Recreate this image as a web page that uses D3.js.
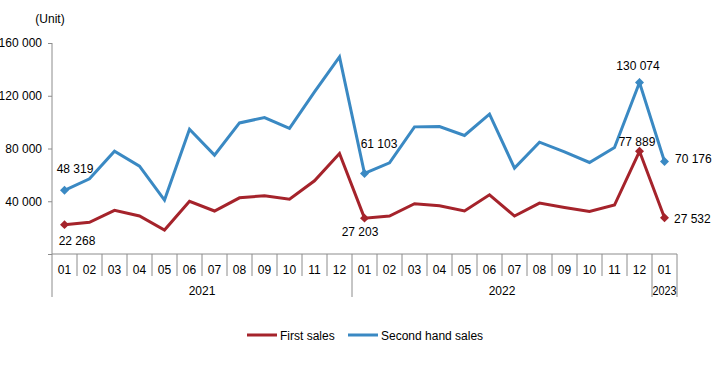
<!DOCTYPE html>
<html>
<head>
<meta charset="utf-8">
<script src="https://cdn.jsdelivr.net/npm/d3@7"></script>
<style>
  html, body { margin: 0; padding: 0; background: #fff; }
  svg text { font-family: "Liberation Sans", Arial, sans-serif; fill: #000; }
</style>
</head>
<body>
<svg id="chart" width="712" height="370"></svg>
<script>
// ---- data ----
const months = ["01","02","03","04","05","06","07","08","09","10","11","12",
                "01","02","03","04","05","06","07","08","09","10","11","12","01"];
const years = [
  { label: "2021", start: 0, count: 12 },
  { label: "2022", start: 12, count: 12 },
  { label: "2023", start: 24, count: 1 }
];
const firstSales = [22268, 24000, 33100, 28800, 18200, 39900, 32600, 42600, 44200, 41600, 55500, 76200,
                    27203, 28800, 38100, 36600, 32600, 44900, 28800, 38600, 35300, 32300, 37100, 77889,
                    27532];
const secondHand = [48319, 57000, 78000, 66600, 40900, 94650, 75000, 99400, 103500, 95200, 122900, 149400,
                    61103, 69100, 96400, 96700, 89900, 106000, 65100, 84800, 77500, 69400, 80800, 130074,
                    70176];
const yTicks = [0, 40000, 80000, 120000, 160000];
const labeledIdx = [0, 12, 23, 24];
const seriesNames = ["First sales", "Second hand sales"];

// ---- layout ----
const svg = d3.select("#chart");
const pL = 52, pR = 677, pT = 43, pB = 254;
const red = "#a5232b", blue = "#3a89c3", axisCol = "#8c8c8c";

const x = d3.scaleBand().domain(d3.range(months.length)).range([pL, pR]);
const y = d3.scaleLinear().domain([0, 160000]).range([pB, pT]);
const cx = i => x(i) + x.bandwidth() / 2;
const fmt = v => d3.format(",")(v).replace(/,/g, " ");

// y axis
const yAxis = d3.axisLeft(y).tickValues(yTicks).tickSize(4).tickPadding(6)
  .tickFormat(d => d === 0 ? "" : fmt(d));
const gy = svg.append("g").attr("transform", `translate(${pL},0)`).call(yAxis);
gy.select(".domain").remove();
gy.selectAll("line").attr("stroke", axisCol);
gy.selectAll("text").style("font-size", "12px").attr("fill", "#000");
svg.append("line").attr("x1", pL).attr("x2", pL).attr("y1", pT).attr("y2", 297)
  .attr("stroke", axisCol);

// x axis line
svg.append("line").attr("x1", pL).attr("x2", pR).attr("y1", pB).attr("y2", pB)
  .attr("stroke", axisCol);

// month separators
const yearStarts = new Set(years.map(d => d.start));
const seps = d3.range(1, months.length + 1);
svg.append("g").selectAll("line").data(seps).join("line")
  .attr("x1", i => i < months.length ? x(i) : pR)
  .attr("x2", i => i < months.length ? x(i) : pR)
  .attr("y1", pB)
  .attr("y2", i => (yearStarts.has(i) || i === months.length) ? 297 : 276)
  .attr("stroke", axisCol);

// month labels
svg.append("g").selectAll("text").data(months).join("text")
  .attr("x", (d, i) => cx(i)).attr("y", 273.5)
  .attr("text-anchor", "middle").style("font-size", "12px").text(d => d);

// year labels
svg.append("g").selectAll("text").data(years).join("text")
  .attr("x", d => x(d.start) + d.count * x.bandwidth() / 2)
  .attr("y", 294.5)
  .attr("text-anchor", "middle").style("font-size", "12px")
  .each(function(d) {
    if (d.count === 1) d3.select(this).attr("textLength", x.bandwidth() - 1).attr("lengthAdjust", "spacingAndGlyphs");
  })
  .text(d => d.label);

// unit label
svg.append("text").attr("x", 50).attr("y", 23).attr("text-anchor", "middle")
  .style("font-size", "12px").text("(Unit)");

// lines
const line = d3.line().x((d, i) => cx(i)).y(d => y(d));
svg.append("path").datum(secondHand).attr("d", line).attr("fill", "none")
  .attr("stroke", blue).attr("stroke-width", 3).attr("stroke-linejoin", "miter");
svg.append("path").datum(firstSales).attr("d", line).attr("fill", "none")
  .attr("stroke", red).attr("stroke-width", 3).attr("stroke-linejoin", "miter");

// markers
const diamond = d3.symbol().type(d3.symbolSquare).size(40);
function markers(data, col) {
  svg.append("g").selectAll("path").data(labeledIdx).join("path")
    .attr("d", diamond)
    .attr("transform", i => `translate(${cx(i)},${y(data[i])}) rotate(45)`)
    .attr("fill", col);
}
markers(secondHand, blue);
markers(firstSales, red);

// data labels
const blueLabelPos = { 0: [75, 173], 12: [379, 148], 23: [638, 70], 24: [675, 163, "start"] };
const redLabelPos  = { 0: [77, 245], 12: [360, 236], 23: [637, 146], 24: [674, 223, "start"] };
function dataLabels(data, pos) {
  svg.append("g").selectAll("text").data(labeledIdx).join("text")
    .attr("x", i => pos[i][0]).attr("y", i => pos[i][1])
    .attr("text-anchor", i => pos[i][2] || "middle")
    .style("font-size", "12px").text(i => fmt(data[i]));
}
dataLabels(secondHand, blueLabelPos);
dataLabels(firstSales, redLabelPos);

// legend
const legend = [
  { name: seriesNames[0], col: red, x: 247 },
  { name: seriesNames[1], col: blue, x: 348 }
];
const lg = svg.append("g").selectAll("g").data(legend).join("g")
  .attr("transform", d => `translate(${d.x},335)`);
lg.append("line").attr("x1", 0).attr("x2", 30).attr("y1", 0).attr("y2", 0)
  .attr("stroke", d => d.col).attr("stroke-width", 3);
lg.append("text").attr("x", 33).attr("y", 4.5).style("font-size", "12px").text(d => d.name);
</script>
</body>
</html>
